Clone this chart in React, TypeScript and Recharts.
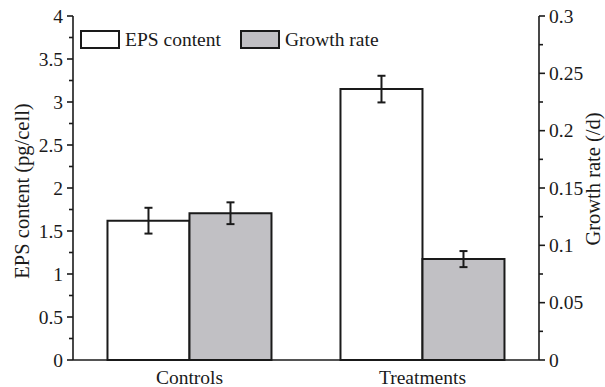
import { BarChart, Bar, XAxis, YAxis, ErrorBar, Legend } from "recharts";

// categories and measured values
const groups = ["Controls", "Treatments"];
const epsContent = [1.62, 3.15]; // pg/cell
const epsError = [0.15, 0.155];
const growthRate = [0.128, 0.088]; // per day
const growthError = [0.0095, 0.007];

// axis ticks (major + minor)
const epsTicks = [0, 0.25, 0.5, 0.75, 1, 1.25, 1.5, 1.75, 2, 2.25, 2.5, 2.75, 3, 3.25, 3.5, 3.75, 4];
const epsMajor = ["0", "0.5", "1", "1.5", "2", "2.5", "3", "3.5", "4"];
const growthTicks = [0, 0.025, 0.05, 0.075, 0.1, 0.125, 0.15, 0.175, 0.2, 0.225, 0.25, 0.275, 0.3];
const growthMajor = ["0", "0.05", "0.1", "0.15", "0.2", "0.25", "0.3"];

const chartData = groups.map((name, i) => ({
  name,
  eps: epsContent[i],
  epsErr: epsError[i],
  growth: growthRate[i],
  growthErr: growthError[i],
}));

const INK = "#1a1a1a";
const GREY = "#c1c0c4";

// tick with major/minor length; labels only for majors
function SideTick(props: any) {
  const { x, y, payload, side, majors } = props;
  const label = String(payload.value);
  const isMajor = majors.includes(label);
  const dir = side === "left" ? -1 : 1;
  const len = isMajor ? 6 : 4;
  return (
    <g>
      <line x1={x} y1={y} x2={x + dir * len} y2={y} stroke={INK} strokeWidth={1.6} />
      {isMajor && (
        <text
          x={x + dir * 10}
          y={y}
          dy="0.35em"
          textAnchor={side === "left" ? "end" : "start"}
          fontSize={19.5}
          fill={INK}
        >
          {label}
        </text>
      )}
    </g>
  );
}

function LegendBox(props: any) {
  const items = props.payload || [];
  return (
    <div style={{ display: "flex", alignItems: "center", fontSize: 19.5, color: INK }}>
      {items.map((it: any, i: number) => (
        <div key={i} style={{ display: "flex", alignItems: "center", marginRight: i === 0 ? 19 : 0 }}>
          <div
            style={{
              width: 40,
              height: 19,
              boxSizing: "border-box",
              border: `2px solid ${INK}`,
              background: it.color,
              marginRight: 5,
            }}
          />
          <span style={{ lineHeight: "19px" }}>{it.value}</span>
        </div>
      ))}
    </div>
  );
}

export default function App() {
  return (
    <div
      style={{
        position: "absolute",
        left: 0,
        top: 0,
        width: 605,
        height: 387,
        background: "#fff",
        fontFamily: "'Liberation Serif', 'DejaVu Serif', serif",
      }}
    >
      <BarChart
        width={605}
        height={387}
        data={chartData}
        margin={{ top: 16, right: 0, bottom: 0, left: 0 }}
        barCategoryGap="14.8%"
        barGap={0}
      >
        <XAxis
          dataKey="name"
          height={27}
          axisLine={{ stroke: INK, strokeWidth: 1.6 }}
          tickLine={false}
          tick={{ fontSize: 19.5, fill: INK }}
          tickMargin={4}
        />
        <XAxis
          xAxisId="top"
          dataKey="name"
          orientation="top"
          height={0}
          mirror
          tick={false}
          tickSize={3}
          axisLine={{ stroke: INK, strokeWidth: 1.6 }}
          tickLine={{ stroke: INK, strokeWidth: 1.6 }}
        />
        <YAxis
          yAxisId="eps"
          width={73}
          domain={[0, 4]}
          ticks={epsTicks}
          interval={0}
          tickSize={0}
          tickMargin={0}
          tickLine={false}
          axisLine={{ stroke: INK, strokeWidth: 1.6 }}
          tick={<SideTick side="left" majors={epsMajor} />}
          label={{
            value: "EPS content (pg/cell)",
            angle: -90,
            position: "center",
            dx: -15,
            dy: 3,
            fontSize: 20.5,
            fill: INK,
          }}
        />
        <YAxis
          yAxisId="growth"
          orientation="right"
          width={66}
          domain={[0, 0.3]}
          ticks={growthTicks}
          interval={0}
          tickSize={0}
          tickMargin={0}
          tickLine={false}
          axisLine={{ stroke: INK, strokeWidth: 1.6 }}
          tick={<SideTick side="right" majors={growthMajor} />}
          label={{
            value: "Growth rate (/d)",
            angle: -90,
            position: "center",
            dx: 21,
            dy: -9,
            fontSize: 20.5,
            fill: INK,
          }}
        />
        <Legend
          layout="vertical"
          align="center"
          verticalAlign="middle"
          wrapperStyle={{ left: 80, top: 30, width: "auto", height: "auto" }}
          content={<LegendBox />}
        />
        <Bar
          yAxisId="eps"
          dataKey="eps"
          name="EPS content"
          fill="#ffffff"
          stroke={INK}
          strokeWidth={2}
          isAnimationActive={false}
        >
          <ErrorBar dataKey="epsErr" width={4} stroke={INK} strokeWidth={2} />
        </Bar>
        <Bar
          yAxisId="growth"
          dataKey="growth"
          name="Growth rate"
          fill={GREY}
          stroke={INK}
          strokeWidth={2}
          isAnimationActive={false}
        >
          <ErrorBar dataKey="growthErr" width={4} stroke={INK} strokeWidth={2} />
        </Bar>
      </BarChart>
    </div>
  );
}
